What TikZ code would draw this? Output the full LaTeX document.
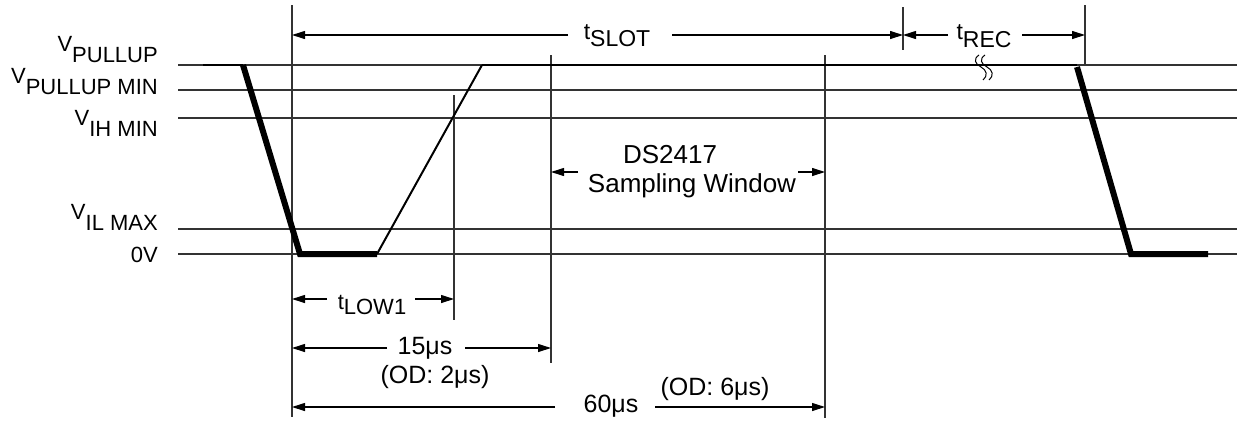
\documentclass[tikz,border=0pt]{standalone}
\usepackage{fontspec}
\setmainfont{Liberation Sans}
\usetikzlibrary{arrows.meta}
\newcommand\dnsub[2][9pt]{\raisebox{-#1}{#2}}
\begin{document}
\begin{tikzpicture}[x=1pt,y=-1pt,
  refline/.style={line width=1.1pt, black!80},
  vline/.style={line width=1.1pt, black!80},
  dimarrow/.style={line width=1.1pt, -{Triangle[length=13pt,width=8pt]}},
  wthick/.style={line width=6pt, line join=miter},
  wthin/.style={line width=2.4pt},
  lab/.style={anchor=base east, inner sep=0pt, font=\fontsize{22}{24}\selectfont},
  txt/.style={anchor=base, inner sep=0pt, font=\fontsize{25}{27}\selectfont},
  ttxt/.style={anchor=base, inner sep=0pt, font=\fontsize{23}{25}\selectfont},
  dstxt/.style={anchor=base, inner sep=0pt, font=\fontsize{26}{28}\selectfont},
]
\useasboundingbox (0,0) rectangle (1237,421);

% reference levels
\coordinate (l1a) at (178,65);  \coordinate (l1b) at (1237,65);
\coordinate (l2a) at (178,90);  \coordinate (l2b) at (1237,90);
\coordinate (l3a) at (178,118); \coordinate (l3b) at (1237,118);
\coordinate (l4a) at (178,229); \coordinate (l4b) at (1237,229);
\coordinate (l5a) at (178,254); \coordinate (l5b) at (1237,254);
\foreach \i in {1,...,5} \draw[refline] (l\i a) -- (l\i b);

% level labels
\node[lab] (vpu) at (158,51) {V\dnsub[11pt]{PULLUP}};
\node[lab] (vpum) at (158,83) {V\dnsub[11pt]{PULLUP MIN}};
\node[lab] (vih) at (158,125) {V\dnsub[11pt]{IH MIN}};
\node[lab] (vil) at (158,219) {V\dnsub[11pt]{IL MAX}};
\node[lab] (zero) at (158,262) {0V};

% vertical marker lines
\coordinate (v1a) at (292,5);   \coordinate (v1b) at (292,417);
\coordinate (v2a) at (454,95);  \coordinate (v2b) at (454,320);
\coordinate (v3a) at (551,55);  \coordinate (v3b) at (551,363);
\coordinate (v4a) at (825,55);  \coordinate (v4b) at (825,418);
\coordinate (v5a) at (903,7);   \coordinate (v5b) at (903,50);
\coordinate (v6a) at (1085,5);  \coordinate (v6b) at (1085,66);
\foreach \i in {1,...,6} \draw[vline] (v\i a) -- (v\i b);

% waveform
\coordinate (w0) at (203,65);
\coordinate (w1) at (243,65);
\coordinate (w2) at (300,254);
\coordinate (w3) at (377,254);
\coordinate (w4) at (482,65);
\coordinate (w5) at (1077,65);
\coordinate (w6) at (1077,67);
\coordinate (w7) at (1131,254);
\coordinate (w8) at (1208,254);
\draw[wthin] (w0) -- (w1);
\draw[wthick] (w1) -- (w2) -- (w3);
\draw[line width=2pt] (w3) -- (w4);
\draw[wthin] (w4) -- (w5);
\draw[wthick] (w6) -- (w7) -- (w8);

% break mark
\draw[line width=1pt] (979,55) .. controls (973,59) and (975,64) .. (981,67) .. controls (987,70) and (988,76) .. (983,80);
\draw[line width=1pt] (985,55) .. controls (979,59) and (981,64) .. (987,67) .. controls (993,70) and (994,76) .. (989,80);

% tSLOT / tREC
\node[ttxt] (tslot) at (617,39) {t\dnsub[7pt]{SLOT}};
\node[ttxt] (trec) at (984,39) {t\dnsub[8pt]{REC}};
\coordinate (s1) at (568,35); \coordinate (s1e) at (292,35);
\coordinate (s2) at (672,35); \coordinate (s2e) at (903,35);
\coordinate (r1) at (948,35); \coordinate (r1e) at (903,35);
\coordinate (r2) at (1022,35); \coordinate (r2e) at (1085,35);
\draw[dimarrow] (s1) -- (s1e);
\draw[dimarrow] (s2) -- (s2e);
\draw[dimarrow] (r1) -- (r1e);
\draw[dimarrow] (r2) -- (r2e);

% sampling window
\node[dstxt] (ds) at (670,163) {DS2417};
\node[dstxt] (sw) at (692,192) {Sampling Window};
\coordinate (d1) at (578,172); \coordinate (d1e) at (551,172);
\coordinate (d2) at (798,172); \coordinate (d2e) at (825,172);
\draw[dimarrow] (d1) -- (d1e);
\draw[dimarrow] (d2) -- (d2e);

% tLOW1
\node[lab, anchor=base, font=\fontsize{22}{24}\selectfont] (tlow) at (372,309) {t\dnsub[5pt]{LOW1}};
\coordinate (a1) at (327,299); \coordinate (a1e) at (292,299);
\coordinate (a2) at (415,299); \coordinate (a2e) at (454,299);
\draw[dimarrow] (a1) -- (a1e);
\draw[dimarrow] (a2) -- (a2e);

% 15us
\node[txt] (t15) at (425,354) {15μs};
\node[txt] (od2) at (435,383) {(OD: 2μs)};
\coordinate (b1) at (387,348); \coordinate (b1e) at (292,348);
\coordinate (b2) at (465,348); \coordinate (b2e) at (551,348);
\draw[dimarrow] (b1) -- (b1e);
\draw[dimarrow] (b2) -- (b2e);

% 60us
\node[txt] (t60) at (611,412) {60μs};
\node[txt] (od6) at (715,395) {(OD: 6μs)};
\coordinate (c1) at (555,407); \coordinate (c1e) at (292,407);
\coordinate (c2) at (655,407); \coordinate (c2e) at (825,407);
\draw[dimarrow] (c1) -- (c1e);
\draw[dimarrow] (c2) -- (c2e);
\end{tikzpicture}
\end{document}
